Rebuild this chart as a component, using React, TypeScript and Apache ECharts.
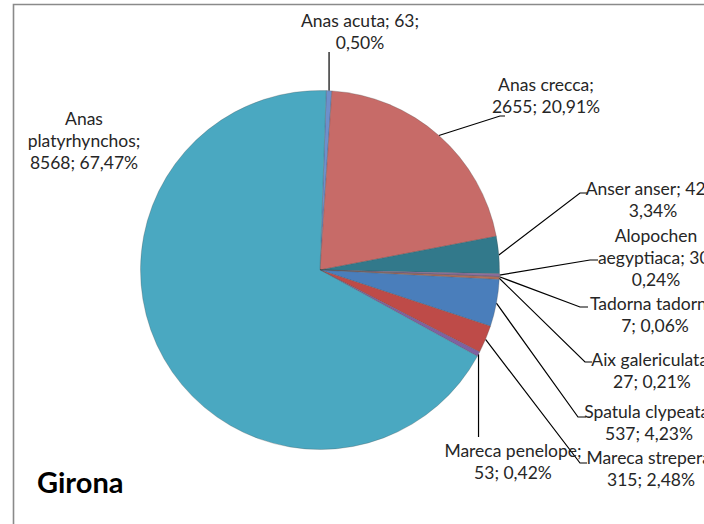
import React, { useEffect, useRef } from "react";
import * as echarts from "echarts";

const names = [
  "Anas acuta",
  "Anas crecca",
  "Anser anser",
  "Alopochen aegyptiaca",
  "Tadorna tadorna",
  "Aix galericulata",
  "Spatula clypeata",
  "Mareca strepera",
  "Mareca penelope",
  "Anas platyrhynchos",
];
const values = [63, 2655, 424, 30, 7, 27, 537, 315, 53, 8568];
const percents = [0.5, 20.91, 3.34, 0.24, 0.06, 0.21, 4.23, 2.48, 0.42, 67.47];
const colors = [
  "#6E8FCB",
  "#C76B68",
  "#32798B",
  "#8E6F9E",
  "#7A5C9C",
  "#B5705A",
  "#4A7EBB",
  "#BE4B48",
  "#7F62A1",
  "#4AA8C1",
];

// label placement (layout only): block centre, wrap mode, leader line end points
type LL = { x: number; y: number; wrap: string; line: number[][] | null; vertical?: boolean };
const labelLayouts: LL[] = [
  { x: 360, y: 31, wrap: "value", line: [[0, 52]], vertical: true },
  { x: 546, y: 95, wrap: "name", line: [[500, 116], [505, 116]] },
  { x: 653, y: 199, wrap: "value", line: [[580, 193], [588, 193]] },
  { x: 656, y: 257, wrap: "splitValue", line: [[590, 260], [598, 260]] },
  { x: 655, y: 314, wrap: "name", line: [[580, 307], [588, 307]] },
  { x: 652, y: 370, wrap: "name", line: [[585, 362], [592, 362]] },
  { x: 649, y: 422, wrap: "name", line: [[578, 417], [586, 417]] },
  { x: 651, y: 468, wrap: "name", line: [[580, 463], [587, 463]] },
  { x: 513, y: 461, wrap: "name", line: [[0, 437]], vertical: true },
  { x: 84, y: 140, wrap: "splitName", line: null },
];

const fmtPct = (p: number) => p.toFixed(2).replace(".", ",") + "%";

function labelText(i: number): string {
  const n = names[i];
  const v = values[i];
  const p = fmtPct(percents[i]);
  const w = labelLayouts[i].wrap;
  if (w === "value") return `${n}; ${v};\n${p}`;
  if (w === "name") return `${n};\n${v}; ${p}`;
  const sp = n.indexOf(" ");
  const a = n.slice(0, sp);
  const b = n.slice(sp + 1);
  if (w === "splitValue") return `${a}\n${b}; ${v};\n${p}`;
  return `${a}\n${b};\n${v}; ${p}`;
}

export default function App() {
  const ref = useRef<HTMLDivElement>(null);
  useEffect(() => {
    if (!ref.current) return;
    const chart = echarts.init(ref.current, null, { renderer: "svg" });
    const data = names.map((n, i) => ({
      name: n,
      value: values[i],
      itemStyle: { color: colors[i] },
      labelLine: { show: labelLayouts[i].line !== null },
    }));
    chart.setOption({
      animation: false,
      backgroundColor: "#ffffff",
      graphic: [
        {
          type: "rect",
          shape: { x: 13.5, y: 4.5, width: 900, height: 700 },
          style: { fill: "none", stroke: "#8a8a8a", lineWidth: 1.6 },
          silent: true,
        },
        {
          type: "text",
          left: 37,
          top: 467,
          style: {
            text: "Girona",
            font: "bold 29px Lato",
            fill: "#000000",
          },
        },
      ],
      series: [
        {
          type: "pie",
          center: [320, 270],
          radius: 179.5,
          startAngle: 88,
          clockwise: true,
          avoidLabelOverlap: false,
          data,
          itemStyle: { borderColor: "rgba(70,70,70,0.45)", borderWidth: 0.6 },
          emphasis: { disabled: true },
          label: {
            show: true,
            position: "outside",
            formatter: (p: any) => labelText(p.dataIndex),
            fontFamily: "Lato",
            fontSize: 17.5,
            lineHeight: 22,
            color: "#262626",
            align: "center",
          },
          labelLine: {
            show: true,
            length: 10,
            length2: 10,
            lineStyle: { color: "#000000", width: 1.2 },
          },
          labelLayout: (params: any) => {
            const L = labelLayouts[params.dataIndex];
            const res: any = { x: L.x, y: L.y, align: "center", verticalAlign: "middle" };
            const pts = params.labelLinePoints;
            if (L.line && pts && pts.length) {
              const s = pts[0];
              const rest = L.line.map((pt) => (L.vertical ? [s[0], pt[1]] : pt));
              res.labelLinePoints = [[s[0], s[1]], ...rest];
            }
            return res;
          },
        },
      ],
    });
    return () => chart.dispose();
  }, []);
  return (
    <div
      ref={ref}
      style={{ position: "fixed", left: 0, top: 0, width: 704, height: 524 }}
    />
  );
}
